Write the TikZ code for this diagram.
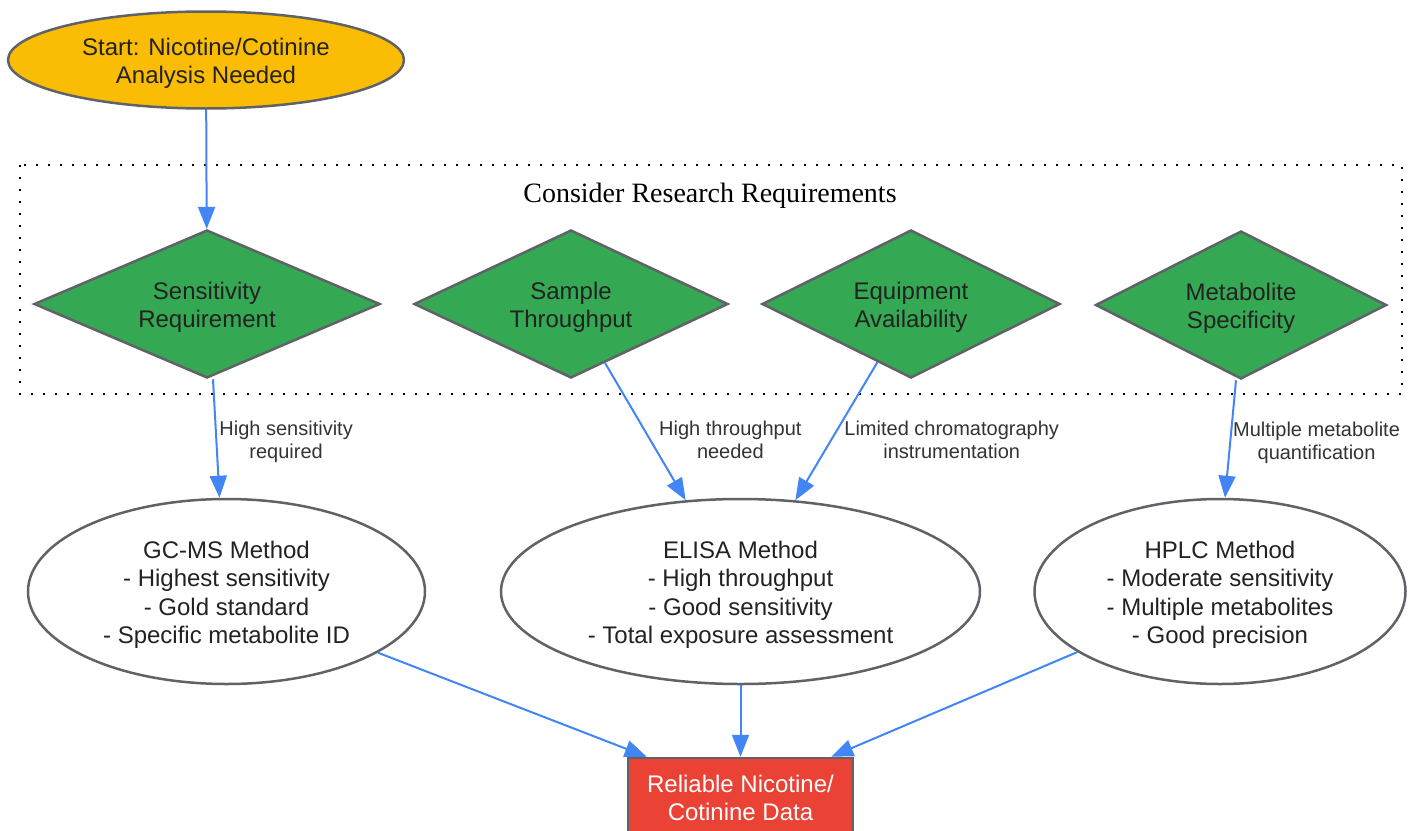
\documentclass[tikz,border=0pt]{standalone}
\usepackage{fontspec}
\setmainfont{Liberation Sans}
\newfontfamily\titlefont{Liberation Serif}
\usetikzlibrary{shapes.geometric}
\usetikzlibrary{arrows.meta}
\definecolor{startyellow}{HTML}{FBBC05}
\definecolor{choicegreen}{HTML}{34A853}
\definecolor{resultred}{HTML}{EA4335}
\definecolor{flowblue}{HTML}{4285F4}
\definecolor{edgegray}{HTML}{5F6368}
\definecolor{inkgray}{HTML}{222222}
\definecolor{labelgray}{HTML}{333333}

\begin{document}
\begin{tikzpicture}[x=1pt,y=-1pt,
  box/.style={draw=edgegray, line width=2.5pt, text=inkgray, align=center, inner sep=2pt, font=\fontsize{24}{28.5}\selectfont},
  twolines/.style={execute at begin node=\rule{0pt}{52pt}},
  fourlines/.style={execute at begin node=\rule{0pt}{109.5pt}},
  startnode/.style={box, twolines, ellipse, fill=startyellow, minimum width=396pt, minimum height=97pt},
  choice/.style={box, twolines, diamond, shape aspect=2.2, fill=choicegreen, minimum height=148pt},
  method/.style={box, fourlines, ellipse, fill=white, minimum height=185pt},
  result/.style={box, twolines, rectangle, fill=resultred, text=white, minimum width=225pt, minimum height=74pt},
  flow/.style={draw=flowblue, line width=2pt, -{Triangle[length=22pt,width=17pt]}},
  edgelabel/.style={text=labelgray, align=center, anchor=west, inner sep=2pt, pos=0.56, font=\fontsize{20}{23}\selectfont}]
\useasboundingbox (0,0) rectangle (1413,830);

\draw[line width=2pt, dash pattern=on 2pt off 10pt] (20,165) rectangle (1402,394);
\node[font=\titlefont\fontsize{28}{34}\selectfont, text=black] (reqtitle) at (710,196) {Consider Research Requirements};

\node[startnode] (start) at (206,60) {Start: Nicotine/Cotinine\\Analysis Needed};

\node[choice, minimum width=346pt] (sens) at (207,304) {Sensitivity\\Requirement};
\node[choice, minimum width=314pt] (thru) at (571,304) {Sample\\Throughput};
\node[choice, minimum width=298pt] (equip) at (911,304) {Equipment\\Availability};
\node[choice, minimum width=291pt] (metab) at (1241,305) {Metabolite\\Specificity};

\node[method, minimum width=397pt] (gcms) at (226.5,591.5) {GC-MS Method\\- Highest sensitivity\\- Gold standard\\- Specific metabolite ID};
\node[method, minimum width=479pt] (elisa) at (740.5,591.5) {ELISA Method\\- High throughput\\- Good sensitivity\\- Total exposure assessment};
\node[method, minimum width=371pt] (hplc) at (1220,591.5) {HPLC Method\\- Moderate sensitivity\\- Multiple metabolites\\- Good precision};

\node[result] (data) at (740.5,795) {Reliable Nicotine/\\Cotinine Data};

\draw[flow] (start) -- (sens);
\draw[flow] ([xshift=6pt]sens.south) -- node[edgelabel, pos=0.53] {High sensitivity\\required} ([xshift=-7pt]gcms.north);
\draw[flow] (thru.-60) -- node[edgelabel, xshift=6pt] {High throughput\\needed} (elisa.121);
\draw[flow] (equip.-120) -- node[edgelabel, xshift=10pt] {Limited chromatography\\instrumentation} (elisa.59);
\draw[flow] ([xshift=-5pt]metab.south) -- node[edgelabel, pos=0.53] {Multiple metabolite\\quantification} ([xshift=5pt]hplc.north);

\draw[flow] (gcms.-22) -- ([xshift=20pt]data.north west);
\draw[flow] (elisa) -- (data);
\draw[flow] (hplc.-157) -- ([xshift=-23pt]data.north east);
\end{tikzpicture}
\end{document}
